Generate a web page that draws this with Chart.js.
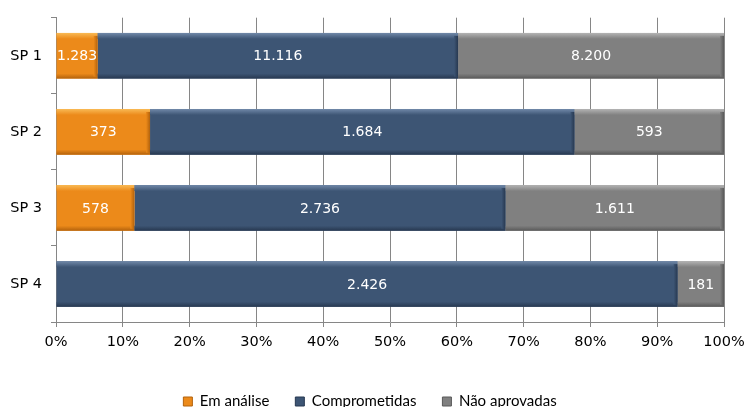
<!DOCTYPE html>
<html>
<head>
<meta charset="utf-8">
<script src="https://cdn.jsdelivr.net/npm/chart.js@4.4.1/dist/chart.umd.min.js"></script>
<style>
  html, body { margin: 0; padding: 0; background: #ffffff; }
  #wrap { width: 744px; height: 407px; }
</style>
</head>
<body>
<div id="wrap"><canvas id="c" width="744" height="407"></canvas></div>
<script>
// Solicitações por SP, quantidades absolutas
const categories = ['SP 1', 'SP 2', 'SP 3', 'SP 4'];
const emAnalise = [1283, 373, 578, 0];
const comprometidas = [11116, 1684, 2736, 2426];
const naoAprovadas = [8200, 593, 1611, 181];
const seriesNames = ['Em análise', 'Comprometidas', 'Não aprovadas'];
const xTicks = [0, 10, 20, 30, 40, 50, 60, 70, 80, 90, 100];

// Palette: body, highlight, shadow
const palette = [
  { body: '#EC8A1A', light: '#F9BA55', dark: '#B3620C' },
  { body: '#3D5574', light: '#7189A9', dark: '#273850' },
  { body: '#808080', light: '#B4B4B4', dark: '#595959' }
];

const raw = [emAnalise, comprometidas, naoAprovadas];
const totals = categories.map((_, i) => raw.reduce((s, arr) => s + arr[i], 0));
const pct = raw.map(arr => arr.map((v, i) => v / totals[i] * 100));

const fmt = v => v.toLocaleString('de-DE');

// Bevel shading and value labels drawn over each bar segment
const bevelAndLabels = {
  id: 'bevelAndLabels',
  afterDatasetsDraw(chart) {
    const ctx = chart.ctx;
    ctx.save();
    chart.data.datasets.forEach((ds, di) => {
      const meta = chart.getDatasetMeta(di);
      const col = palette[di];
      meta.data.forEach((bar, i) => {
        if (!raw[di][i]) return;
        const left = Math.min(bar.base, bar.x);
        const right = Math.max(bar.base, bar.x);
        const top = bar.y - bar.height / 2;
        const bottom = bar.y + bar.height / 2;
        const w = right - left;
        // top highlight
        let g = ctx.createLinearGradient(0, top, 0, top + 6);
        g.addColorStop(0, col.light);
        g.addColorStop(1, col.body);
        ctx.fillStyle = g;
        ctx.fillRect(left, top, w, 6);
        // bottom shadow
        g = ctx.createLinearGradient(0, bottom - 5, 0, bottom);
        g.addColorStop(0, col.body);
        g.addColorStop(1, col.dark);
        ctx.fillStyle = g;
        ctx.fillRect(left, bottom - 5, w, 5);
        // right edge shadow
        g = ctx.createLinearGradient(right - 4, 0, right, 0);
        g.addColorStop(0, col.body);
        g.addColorStop(1, col.dark);
        ctx.fillStyle = g;
        ctx.fillRect(right - 4, top + 3, 4, bar.height - 5);
        // value label
        ctx.fillStyle = '#ffffff';
        ctx.font = '14px "DejaVu Sans", Verdana, sans-serif';
        ctx.textAlign = 'center';
        ctx.textBaseline = 'middle';
        ctx.fillText(fmt(raw[di][i]), (left + right) / 2, bar.y + 1);
      });
    });
    ctx.restore();
  }
};

new Chart(document.getElementById('c'), {
  type: 'bar',
  data: {
    labels: categories,
    datasets: seriesNames.map((name, di) => ({
      label: name,
      data: pct[di],
      backgroundColor: palette[di].body,
      borderWidth: 0,
      barPercentage: 0.6,
      categoryPercentage: 1.0
    }))
  },
  options: {
    indexAxis: 'y',
    responsive: false,
    devicePixelRatio: 1,
    animation: false,
    layout: { padding: { top: 14, right: 4, left: 0, bottom: -12 } },
    scales: {
      x: {
        stacked: true,
        min: 0,
        max: 100,
        afterBuildTicks: scale => { scale.ticks = xTicks.map(v => ({ value: v })); },
        afterFit: scale => {
          scale.height = 46;
          scale.paddingLeft = 0;
          scale.paddingRight = 20;
        },
        border: { color: '#868686', width: 1 },
        grid: { color: '#868686', lineWidth: 1, tickLength: 5, drawTicks: true },
        ticks: {
          callback: v => v + '%',
          color: '#000000',
          padding: 7,
          maxRotation: 0,
          font: { family: '"DejaVu Sans", Verdana, sans-serif', size: 14.5 }
        }
      },
      y: {
        stacked: true,
        afterFit: scale => { scale.width = 56; },
        border: { color: '#868686', width: 1 },
        grid: { offset: true, drawOnChartArea: false, color: '#868686', tickLength: 5 },
        ticks: {
          color: '#000000',
          padding: 9,
          font: { family: '"DejaVu Sans", Verdana, sans-serif', size: 14.5 }
        }
      }
    },
    plugins: {
      tooltip: { enabled: false },
      legend: {
        position: 'bottom',
        labels: {
          boxWidth: 9,
          boxHeight: 9,
          padding: 26,
          color: '#000000',
          font: { family: 'Lato, "Liberation Sans", sans-serif', size: 15 },
          generateLabels: chart => seriesNames.map((name, di) => ({
            text: name,
            fillStyle: palette[di].body,
            strokeStyle: palette[di].dark,
            lineWidth: 1,
            datasetIndex: di
          }))
        }
      }
    }
  },
  plugins: [bevelAndLabels]
});
</script>
</body>
</html>
